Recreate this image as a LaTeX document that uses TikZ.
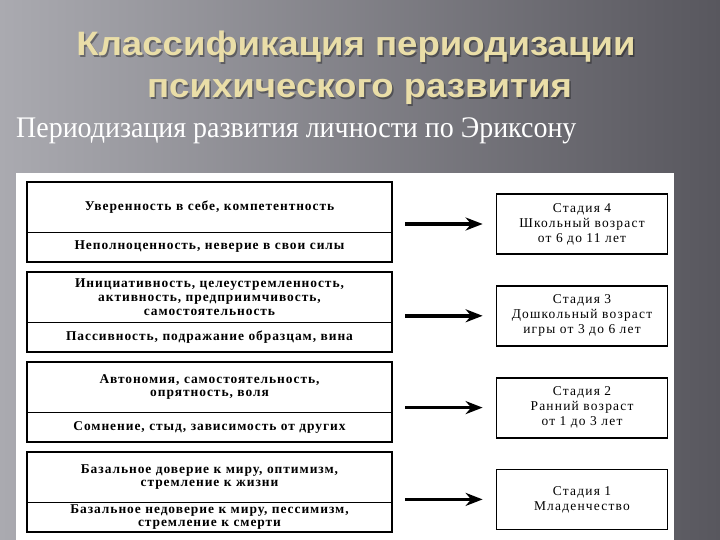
\documentclass[tikz,border=0pt]{standalone}
\usepackage{fontspec}
\setmainfont{Liberation Serif}
\newfontfamily\headfont{Liberation Sans}
\newfontfamily\scanfont[LetterSpace=7]{Liberation Serif}
\newfontfamily\stagefont[LetterSpace=9]{Liberation Serif}
\usetikzlibrary{
    arrows.meta,
    positioning,
    calc
}
\definecolor{bgLight}{RGB}{170,170,176}
\definecolor{bgDark}{RGB}{88,87,94}
\definecolor{titleGold}{RGB}{234,222,168}
\tikzset{
    heading/.style={
        anchor=base,
        font=\headfont\bfseries\fontsize{34}{40}\selectfont,
        text=titleGold
    },
    heading shadow/.style={
        heading,
        text=black,
        opacity=0.35
    },
    quality/.style={
        minimum width=365bp,
        minimum height=50bp,
        text width=355bp,
        inner sep=0pt,
        outer sep=0pt,
        align=center,
        font=\scanfont\bfseries\fontsize{13.5}{14}\selectfont
    },
    crisis/.style={
        quality,
        minimum height=30bp
    },
    stagebox/.style={
        draw,
        line width=1.8bp,
        minimum width=171bp,
        minimum height=60bp,
        text width=160bp,
        inner sep=0pt,
        align=center,
        font=\stagefont\fontsize{13.5}{15}\selectfont
    },
    transition/.style={
        -{Stealth[length=17bp,width=13bp]},
        line width=3.5bp,
        shorten <=13bp,
        shorten >=13bp
    }
}

\begin{document}
\begin{tikzpicture}[x=1bp, y=-1bp]
        \useasboundingbox (0,0) rectangle (720,540);

        % Background
        \shade[left color=bgLight, right color=bgDark] (0,0) rectangle (720,540);
        \fill[white] (16,173) rectangle (674,540);

        % Heading
        \node [heading shadow] (title_shadow1) at (357.5,57.5) {\scalebox{1.08}[1]{Классификация периодизации}};
        \node [heading shadow] (title_shadow2) at (361,99.5) {\scalebox{1.08}[1]{психического развития}};
        \node [heading] (title1) at (356,56) {\scalebox{1.08}[1]{Классификация периодизации}};
        \node [heading] (title2) at (359.5,98) {\scalebox{1.08}[1]{психического развития}};
        \node [anchor=base west, text=white, font=\fontsize{30}{36}\selectfont, inner sep=0pt] (subtitle) at (16,138)
            {\scalebox{0.935}[1]{Периодизация развития личности по Эриксону}};

        % Qualities (top) and crises (bottom)
        \node [quality] (good4) at (209.5,207) {Уверенность в себе, компетентность};
        \node [crisis, below=0pt of good4] (bad4) {\raisebox{-2bp}{Неполноценность, неверие в свои силы}};

        \node [quality, below=10bp of bad4] (good3) {Инициативность, целеустремленность,\\активность, предприимчивость,\\самостоятельность};
        \node [crisis, below=0pt of good3] (bad3) {Пассивность, подражание образцам, вина};

        \node [quality, below=10bp of bad3] (good2) {Автономия, самостоятельность,\\опрятность, воля};
        \node [crisis, below=0pt of good2] (bad2) {Сомнение, стыд, зависимость от других};

        \node [quality, below=10bp of bad2] (good1) {Базальное доверие к миру, оптимизм,\\стремление к жизни\\[4bp]};
        \node [crisis, below=0pt of good1] (bad1) {Базальное недоверие к миру, пессимизм,\\стремление к смерти};

        \foreach \n in {1,...,4} {
            \draw [line width=1.8bp] (good\n.north west) rectangle (bad\n.south east);
            \draw [line width=0.8bp] (good\n.south west) -- (good\n.south east);
        }

        % Stages
        \node [stagebox] (stage4) at (582,224) {Стадия 4\\Школьный возраст\\от 6 до 11 лет};
        \node [stagebox, below=30bp of stage4] (stage3) {Стадия 3\\Дошкольный возраст\\игры от 3 до 6 лет};
        \node [stagebox, below=30bp of stage3] (stage2) {Стадия 2\\Ранний возраст\\от 1 до 3 лет};
        \node [stagebox, below=30bp of stage2] (stage1) {Стадия 1\\Младенчество};

        % Arrows
        \foreach \n in {1,...,4}
            \draw [transition] (stage\n.west -| good\n.east) -- (stage\n.west);
    \end{tikzpicture}
\end{document}
